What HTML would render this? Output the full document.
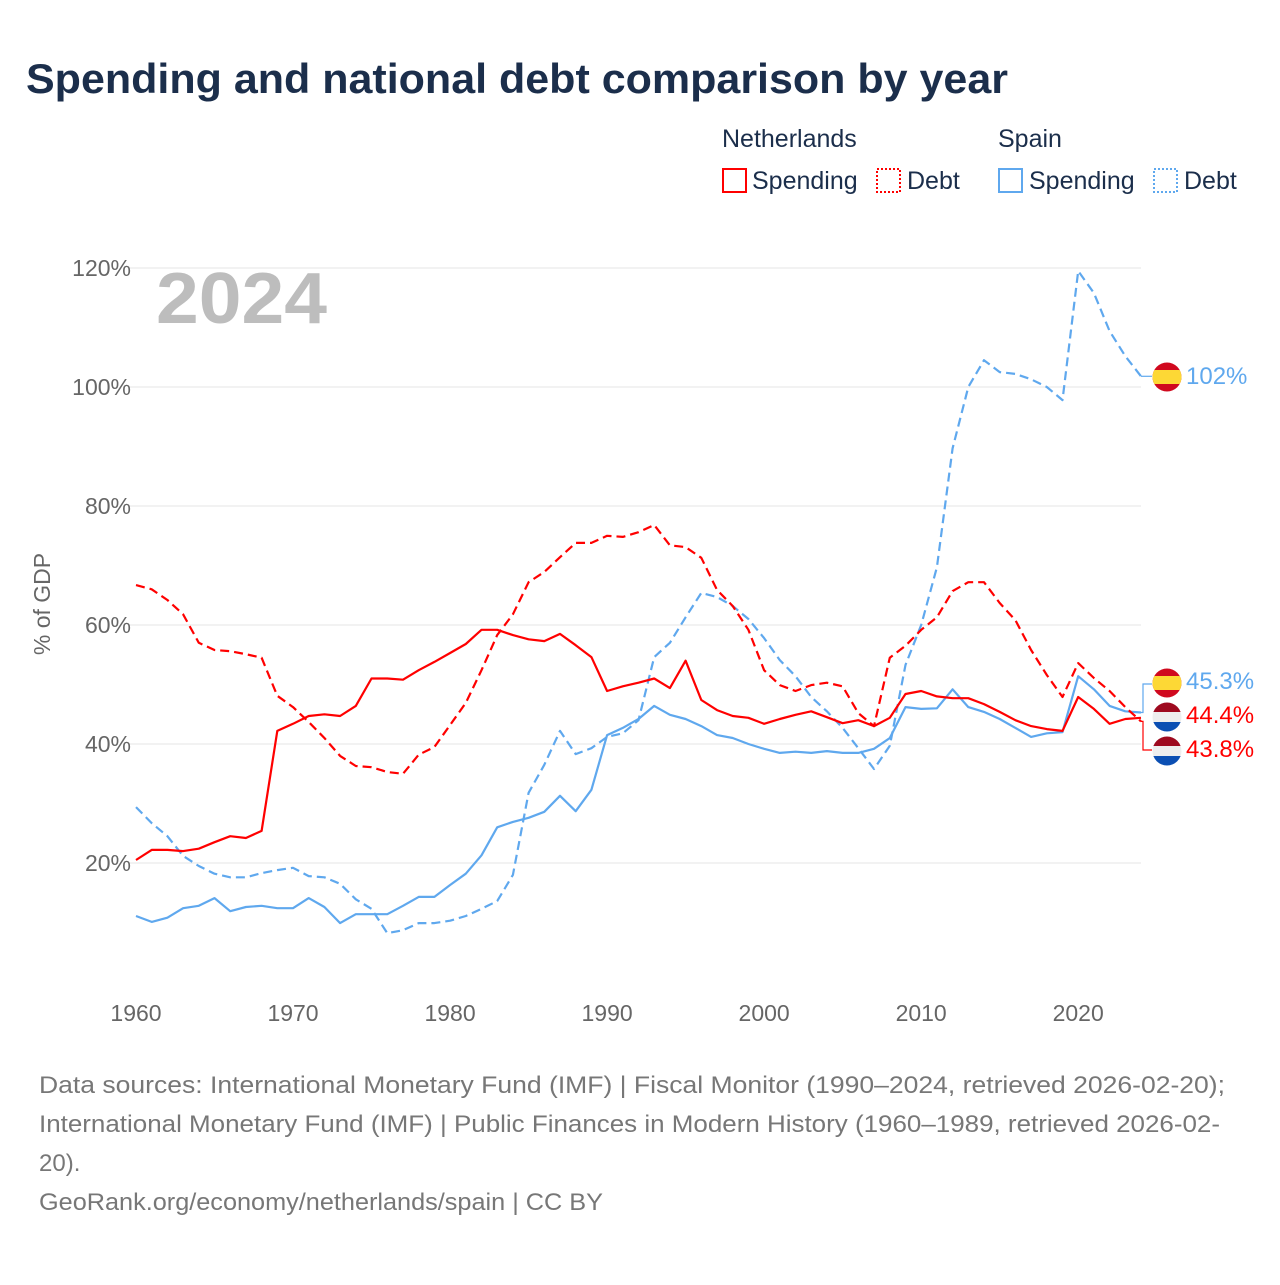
<!DOCTYPE html>
<html><head><meta charset="utf-8">
<style>
body{margin:0;background:#fff;font-family:"Liberation Sans",sans-serif;}
svg text{font-family:"Liberation Sans",sans-serif;}
</style></head>
<body>
<svg id="chart" width="1280" height="1280" xmlns="http://www.w3.org/2000/svg">
<text x="26" y="93" font-size="42" font-weight="bold" fill="#1b2e4b" textLength="982" lengthAdjust="spacingAndGlyphs">Spending and national debt comparison by year</text>
<g font-size="25" fill="#1b2e4b">
<text x="722" y="147">Netherlands</text>
<text x="998" y="147">Spain</text>
<g><rect x="723" y="169" width="23" height="23" fill="none" stroke="#ff0000" stroke-width="2"/><text x="752" y="189">Spending</text></g>
<g><rect x="877" y="169" width="23" height="23" fill="none" stroke="#ff0000" stroke-width="2" stroke-dasharray="2,2"/><text x="907" y="189">Debt</text></g>
<g><rect x="999" y="169" width="23" height="23" fill="none" stroke="#5fa8ee" stroke-width="2"/><text x="1029" y="189">Spending</text></g>
<g><rect x="1154" y="169" width="23" height="23" fill="none" stroke="#5fa8ee" stroke-width="2" stroke-dasharray="2,2"/><text x="1184" y="189">Debt</text></g>
</g>
<g id="grid"></g>
<text x="156" y="323" font-size="72" font-weight="bold" fill="#bdbdbd" textLength="171" lengthAdjust="spacingAndGlyphs">2024</text>
<text transform="translate(50,604) rotate(-90)" text-anchor="middle" font-size="23" fill="#666">% of GDP</text>
<g id="series"></g>
<g id="endlabels"></g>
<g font-size="24" fill="#777">
<text x="39" y="1093" textLength="1186" lengthAdjust="spacingAndGlyphs">Data sources: International Monetary Fund (IMF) | Fiscal Monitor (1990–2024, retrieved 2026-02-20);</text>
<text x="39" y="1132" textLength="1181" lengthAdjust="spacingAndGlyphs">International Monetary Fund (IMF) | Public Finances in Modern History (1960–1989, retrieved 2026-02-</text>
<text x="39" y="1171">20).</text>
<text x="39" y="1210" textLength="564" lengthAdjust="spacingAndGlyphs">GeoRank.org/economy/netherlands/spain | CC BY</text>
</g>
</svg>
<script>
const years=[];for(let y=1960;y<=2024;y++)years.push(y);
const yTicks=[20,40,60,80,100,120];
const xTicks=[1960,1970,1980,1990,2000,2010,2020];
const nlSpending=[20.5,22.2,22.2,22,22.4,23.5,24.5,24.2,25.4,42.2,43.4,44.7,45,44.7,46.4,51,51,50.8,52.4,53.8,55.3,56.8,59.2,59.2,58.3,57.6,57.3,58.5,56.6,54.6,48.9,49.7,50.3,51,49.4,54,47.4,45.7,44.7,44.4,43.4,44.2,44.9,45.5,44.5,43.5,44,43,44.4,48.4,48.9,48,47.7,47.7,46.7,45.4,44,43,42.5,42.2,47.9,45.9,43.4,44.2,44.4];
const nlDebt=[66.7,66,64.2,61.8,57,55.8,55.6,55.1,54.5,48.1,46.2,43.7,41,38,36.3,36.1,35.3,35,38.2,39.5,43.2,46.9,52.4,58.3,61.8,67.2,68.9,71.4,73.8,73.8,75,74.8,75.6,76.8,73.4,73.1,71.3,65.9,63.2,59.2,52.4,49.9,48.9,49.9,50.3,49.7,45.2,43,54.5,56.5,59.2,61.3,65.7,67.2,67.2,63.7,60.8,55.8,51.6,47.9,53.6,51.1,48.9,46.2,43.8];
const esSpending=[11.1,10.1,10.8,12.4,12.8,14.1,11.9,12.6,12.8,12.4,12.4,14.1,12.6,9.9,11.4,11.4,11.4,12.8,14.3,14.3,16.3,18.2,21.3,26,26.9,27.6,28.6,31.3,28.7,32.3,41.5,42.7,44.2,46.4,44.9,44.2,43,41.5,41,40,39.2,38.5,38.7,38.5,38.8,38.5,38.5,39.2,41,46.2,45.9,46,49.2,46.2,45.4,44.2,42.7,41.2,41.8,42,51.4,49.2,46.4,45.5,45.3];
const esDebt=[29.4,26.7,24.5,21.2,19.5,18.2,17.6,17.6,18.3,18.8,19.2,17.8,17.6,16.5,13.9,12.3,8.2,8.7,9.9,9.9,10.3,11.1,12.3,13.6,18,31.8,36.5,42.2,38.3,39.3,41.2,41.8,44,54.6,57,61.3,65.4,64.7,63.2,61,57.8,54.1,51.4,47.9,45.5,42.7,39.3,35.8,39.7,53.3,60,69.7,89.7,100,104.5,102.5,102.2,101.3,100,97.8,119.5,115.8,109.4,105.2,101.8];
const NS="http://www.w3.org/2000/svg";
const X=y=>136+(y-1960)*(1141-136)/64;
const Y=v=>982-v*5.95;
function mk(tag,attrs,parent){const e=document.createElementNS(NS,tag);for(const k in attrs)e.setAttribute(k,attrs[k]);parent.appendChild(e);return e;}
const grid=document.getElementById('grid');
yTicks.forEach(t=>{
 const l=mk('line',{x1:130,x2:1141,y1:Y(t),y2:Y(t),stroke:'#e6e6e6','stroke-width':1},grid);
 
 
 const tx=mk('text',{x:131,y:Y(t)+8,'text-anchor':'end','font-size':23,fill:'#666'},grid);
 tx.textContent=t+'%';
 
 
});
xTicks.forEach(t=>{
 const tx=mk('text',{x:X(t),y:1021,'text-anchor':'middle','font-size':23,fill:'#666'},grid);
 tx.textContent=t;
 
 
});
const ser=document.getElementById('series');
function line(vals,color,dash,name){
 const d=vals.map((v,i)=>(i?'L':'M')+X(years[i]).toFixed(1)+','+Y(v).toFixed(1)).join('');
 const p=mk('path',{d:d,fill:'none',stroke:color,'stroke-width':2.2,'stroke-linejoin':'round'},ser);
 if(dash)p.setAttribute('stroke-dasharray','9,5');
 
 
}
line(esDebt,'#5fa8ee',true,'spain-debt-line');
line(esSpending,'#5fa8ee',false,'spain-spending-line');
line(nlDebt,'#ff0000',true,'netherlands-debt-line');
line(nlSpending,'#ff0000',false,'netherlands-spending-line');
const el=document.getElementById('endlabels');
function flag(cx,cy,type){
 const g=mk('g',{},el);
 
 
 const cp='c'+Math.round(cy);
 const defs=mk('clipPath',{id:cp},g);mk('circle',{cx:cx,cy:cy,r:14.5},defs);
 const gg=mk('g',{'clip-path':'url(#'+cp+')'},g);
 if(type==='spain'){mk('rect',{x:cx-15,y:cy-15,width:30,height:30,fill:'#d0091e'},gg);mk('rect',{x:cx-15,y:cy-7,width:30,height:14,fill:'#fdd835'},gg);}
 else{mk('rect',{x:cx-15,y:cy-15,width:30,height:10,fill:'#9e0a1f'},gg);mk('rect',{x:cx-15,y:cy-5,width:30,height:10,fill:'#eee'},gg);mk('rect',{x:cx-15,y:cy+5,width:30,height:10,fill:'#0b4fb3'},gg);}
}
function lab(x,y,txt,color,name){const t=mk('text',{x:x,y:y+8,'font-size':24,fill:color},el);t.textContent=txt;}
const last=years.length-1;
mk('path',{d:`M${X(2024)},${Y(esDebt[last])}L1152,${Y(esDebt[last])}`,stroke:'#5fa8ee','stroke-width':1.2,fill:'none'},el);
flag(1167,377,'spain');lab(1186,376,esDebt[last].toFixed(0)+'%','#5fa8ee','spain-debt-label');
mk('path',{d:`M1141,${Y(esSpending[last])}L1143,${Y(esSpending[last])}L1143,684L1152,684`,stroke:'#5fa8ee','stroke-width':1.2,fill:'none'},el);
flag(1167,683,'spain');lab(1186,681,esSpending[last].toFixed(1)+'%','#5fa8ee','spain-spending-label');
flag(1167,717,'netherlands');lab(1186,715,nlSpending[last].toFixed(1)+'%','#ff0000','netherlands-spending-label');
mk('path',{d:`M1141,${Y(nlDebt[last])}L1143,${Y(nlDebt[last])}L1143,750L1152,750`,stroke:'#ff0000','stroke-width':1.2,fill:'none'},el);
flag(1167,751,'netherlands');lab(1186,749,nlDebt[last].toFixed(1)+'%','#ff0000','netherlands-debt-label');
</script>
</body></html>
